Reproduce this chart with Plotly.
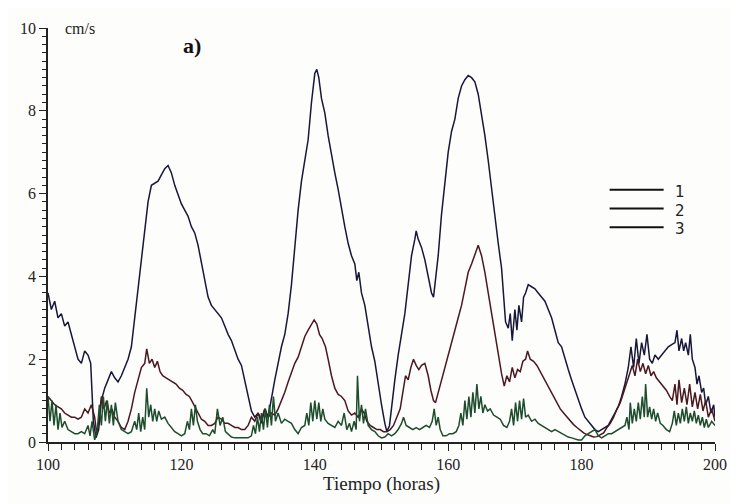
import plotly.graph_objects as go

# ---------------- data ----------------
t1 = [100,100.5,101,101.5,102,102.5,103,103.5,104,104.5,105,105.5,106,106.4,106.8,107.2,107.6,108,108.5,109,109.5,110,110.5,111,111.5,112,112.5,113,113.5,114,114.5,115,115.5,116,116.5,117,117.5,118,118.5,119,119.5,120,120.5,121,121.5,122,122.5,123,123.5,124,124.5,125,125.5,126,126.5,127,127.5,128,128.5,129,129.5,130,130.5,131,131.5,132,132.5,133,133.5,134,134.5,135,135.5,136,136.5,137,137.5,138,138.5,139,139.5,140,140.3,140.6,141,141.5,142,142.5,143,143.5,144,144.5,145,145.5,146,146.3,146.6,147,147.5,148,148.5,149,149.5,150,150.5,150.8,151.2,151.6,152,152.5,153,153.5,154,154.5,155,155.2,155.5,156,156.5,157,157.5,157.8,158.2,158.5,159,159.5,160,160.5,161,161.5,162,162.5,163,163.5,164,164.5,165,165.5,166,166.5,167,167.5,168,168.3,168.6,169,169.3,169.6,170,170.3,170.6,171,171.3,171.6,172,172.5,173,173.5,174,174.5,175,175.5,176,176.5,177,177.5,178,178.5,179,179.5,180,180.5,181,181.5,182,182.5,183,183.5,184,184.5,185,185.5,186,186.5,187,187.4,187.8,188.2,188.6,189,189.4,189.8,190.2,190.6,191,191.5,192,192.5,193,193.5,194,194.3,194.6,195,195.3,195.6,196,196.3,196.6,197,197.3,197.6,198,198.3,198.6,199,199.4,199.8,200]
v1 = [3.6,3.2,3.4,3.0,3.1,2.8,2.9,2.6,2.3,2.0,1.9,2.2,2.1,1.9,0.5,0.1,0.3,1.0,1.3,1.5,1.7,1.55,1.45,1.6,1.8,2.0,2.3,3.0,3.7,4.4,5.0,5.8,6.2,6.25,6.3,6.45,6.6,6.68,6.5,6.2,5.95,5.75,5.6,5.45,5.2,5.05,4.75,4.3,3.95,3.5,3.3,3.2,3.1,3.0,2.8,2.6,2.45,2.2,2.0,1.85,1.5,1.1,0.75,0.6,0.7,0.45,0.8,0.6,1.1,1.5,1.9,2.3,2.6,3.1,3.8,4.8,5.6,6.3,6.8,7.3,8.2,8.9,9.0,8.8,8.3,7.95,7.4,6.9,6.5,6.1,5.6,5.2,4.8,4.5,4.3,3.9,4.1,3.6,3.3,2.8,2.3,1.95,1.4,0.9,0.45,0.25,0.4,1.0,1.5,2.1,2.6,3.1,3.8,4.5,4.9,5.1,4.9,4.7,4.4,4.0,3.6,3.5,4.0,4.5,5.5,6.3,7.0,7.5,7.8,8.3,8.6,8.75,8.85,8.8,8.7,8.4,7.95,7.4,6.8,6.1,5.5,4.8,4.2,3.5,2.9,2.75,3.1,2.45,3.2,2.7,3.3,2.9,3.5,3.6,3.8,3.75,3.7,3.6,3.5,3.4,3.2,3.0,2.7,2.4,2.3,2.0,1.75,1.5,1.25,1.0,0.8,0.6,0.5,0.4,0.3,0.25,0.3,0.35,0.4,0.55,0.7,0.85,1.1,1.4,1.8,2.3,1.8,2.5,1.9,2.4,2.1,2.6,2.0,1.9,2.1,2.0,2.1,2.2,2.3,2.35,2.4,2.7,2.2,2.5,2.2,2.4,2.1,2.6,2.0,1.8,1.4,1.6,1.2,1.3,0.9,1.1,0.7,0.9,0.6]

t2 = [100,100.5,101,101.5,102,102.5,103,103.5,104,104.5,105,105.5,106,106.5,107,107.3,107.7,108,108.4,108.8,109.2,109.6,110,110.5,111,111.5,112,112.5,113,113.5,114,114.5,114.8,115.2,115.6,116,116.4,116.8,117.2,117.7,118.2,118.7,119.2,119.7,120.2,120.7,121.2,121.7,122.2,122.6,123,123.5,124,124.5,125,125.5,126,126.5,127,127.5,128,128.5,129,129.5,130,130.5,131,131.5,132,132.5,133,133.5,134,134.5,135,135.5,136,136.5,137,137.5,138,138.5,139,139.5,139.9,140.3,140.7,141.1,141.6,142,142.5,143,143.5,144,144.5,145,145.5,146,146.5,147,147.4,147.8,148.3,148.8,149.3,149.8,150.3,150.8,151.3,151.8,152.3,152.8,153.2,153.6,154,154.4,154.8,155.2,155.6,156,156.5,157,157.4,157.8,158.1,158.5,159,159.5,160,160.5,161,161.5,162,162.5,163,163.5,164,164.5,165,165.5,166,166.5,167,167.5,168,168.4,168.8,169.2,169.6,170,170.4,170.8,171.2,171.6,171.9,172.3,172.8,173.3,173.8,174.3,174.8,175.3,175.8,176.3,176.8,177.3,177.8,178.3,178.8,179.3,179.8,180.3,180.8,181.3,181.8,182.3,182.8,183.3,183.8,184.3,184.8,185.3,185.8,186.3,186.8,187.2,187.6,188,188.4,188.8,189.2,189.6,190,190.4,190.8,191.2,191.7,192.2,192.7,193.2,193.6,194,194.3,194.6,195,195.4,195.8,196.2,196.6,197,197.4,197.8,198.2,198.6,199,199.5,200]
v2 = [1.1,1.0,0.9,0.85,0.8,0.7,0.65,0.6,0.6,0.55,0.6,0.8,0.7,0.9,0.6,0.2,0.6,1.1,0.8,1.0,0.7,0.8,0.6,0.5,0.35,0.3,0.5,0.8,1.2,1.5,1.8,1.9,2.25,1.9,2.0,1.8,1.95,1.7,1.6,1.55,1.5,1.45,1.4,1.3,1.25,1.15,1.1,0.95,0.8,0.7,0.55,0.5,0.4,0.4,0.45,0.6,0.55,0.45,0.45,0.4,0.35,0.35,0.3,0.3,0.4,0.6,0.5,0.7,0.55,0.8,0.6,0.7,0.65,0.8,1.0,1.2,1.45,1.7,1.9,2.05,2.3,2.55,2.7,2.85,2.95,2.85,2.6,2.5,2.3,2.0,1.6,1.3,1.15,1.1,1.0,0.75,0.65,0.7,0.6,0.8,0.7,0.5,0.4,0.35,0.3,0.3,0.25,0.25,0.3,0.4,0.6,0.8,1.2,1.6,1.5,1.8,2.0,1.85,1.75,1.85,1.9,1.6,1.25,1.0,0.95,1.2,1.5,1.8,2.1,2.4,2.7,3.0,3.3,3.7,4.1,4.3,4.55,4.75,4.5,4.1,3.6,3.1,2.6,2.15,1.65,1.35,1.6,1.45,1.8,1.55,1.75,1.7,1.95,2.0,2.2,2.0,1.95,1.85,1.7,1.55,1.4,1.25,1.1,0.95,0.8,0.7,0.6,0.5,0.42,0.35,0.28,0.22,0.18,0.15,0.12,0.13,0.18,0.22,0.35,0.45,0.6,0.8,0.95,1.2,1.5,1.7,1.85,1.6,2.0,1.7,1.9,1.65,1.85,1.6,1.7,1.55,1.45,1.35,1.25,1.1,1.0,1.4,0.9,1.5,0.95,1.3,0.9,1.4,0.85,1.2,0.8,1.15,0.75,1.0,0.6,0.8,0.5]

t3 = [100,100.3,100.6,100.9,101.2,101.5,101.8,102.1,102.5,103,103.5,104,104.5,105,105.5,106,106.3,106.6,107,107.4,107.7,108,108.3,108.6,108.9,109.2,109.5,109.8,110.1,110.5,111,111.5,112,112.5,113,113.3,113.6,113.9,114.2,114.5,114.8,115.1,115.4,115.7,116,116.3,116.6,117,117.5,118,118.5,119,119.5,120,120.5,120.9,121.2,121.5,121.8,122.1,122.4,122.8,123.2,123.7,124.2,124.7,125,125.4,125.8,126.2,126.6,127,127.5,128,128.5,129,129.5,130,130.5,130.8,131.1,131.4,131.7,132,132.3,132.6,132.9,133.2,133.5,133.8,134.1,134.5,135,135.5,136,136.5,137,137.5,138,138.5,138.8,139.1,139.4,139.7,140,140.3,140.6,140.9,141.2,141.5,142,142.5,143,143.5,144,144.4,144.8,145.2,145.5,145.9,146.2,146.4,146.7,147,147.3,147.6,148,148.5,149,149.5,150,150.5,151,151.5,152,152.5,153,153.3,153.7,154.2,154.7,155.2,155.7,156.2,156.7,157.2,157.6,157.9,158.2,158.5,158.8,159.2,159.7,160.2,160.7,161.2,161.6,161.9,162.2,162.5,162.8,163.1,163.4,163.7,164,164.3,164.6,164.9,165.2,165.5,165.9,166.3,166.8,167.3,167.8,168.3,168.8,169.2,169.5,169.8,170.1,170.4,170.7,171,171.3,171.6,172,172.5,173,173.5,174,174.5,175,175.5,176,176.5,177,177.5,178,178.5,179,179.5,180,180.5,181,181.5,182,182.5,183,183.5,184,184.5,185,185.5,186,186.5,186.8,187.1,187.3,187.6,187.9,188.2,188.5,188.8,189.1,189.4,189.6,189.9,190.2,190.5,190.8,191.1,191.4,191.8,192.2,192.7,193.2,193.6,193.9,194.2,194.5,194.8,195.1,195.4,195.7,196,196.3,196.6,196.9,197.2,197.5,197.8,198.1,198.4,198.7,199,199.5,200]
v3 = [1.1,0.5,1.0,0.4,0.9,0.3,0.7,0.35,0.5,0.3,0.25,0.2,0.2,0.25,0.2,0.4,0.15,0.5,0.05,0.3,0.9,0.4,1.1,0.5,1.0,0.45,0.9,0.4,0.95,0.5,0.3,0.25,0.2,0.25,0.5,0.3,0.7,0.25,0.6,0.3,1.3,0.6,0.9,0.5,0.8,0.5,0.75,0.55,0.6,0.45,0.35,0.25,0.2,0.15,0.2,0.5,0.3,0.8,0.4,0.9,0.5,0.3,0.2,0.2,0.15,0.3,0.2,0.8,0.4,0.6,0.25,0.2,0.12,0.1,0.1,0.1,0.1,0.1,0.15,0.4,0.2,0.6,0.25,0.7,0.3,0.8,0.35,0.9,0.4,1.1,0.5,0.7,0.45,0.55,0.5,0.45,0.3,0.2,0.35,0.4,0.7,0.4,0.95,0.5,1.0,0.55,0.95,0.5,0.8,0.55,0.45,0.4,0.35,0.5,0.4,0.7,0.3,0.45,0.25,0.5,0.3,1.6,0.5,0.9,0.45,0.8,0.4,0.3,0.25,0.15,0.1,0.12,0.2,0.15,0.2,0.3,0.45,0.6,0.4,0.35,0.3,0.35,0.3,0.35,0.4,0.35,0.5,0.8,0.4,0.6,0.3,0.15,0.15,0.2,0.2,0.25,0.4,0.7,0.4,1.0,0.55,1.1,0.6,1.2,0.7,1.4,0.8,1.1,0.7,0.9,0.75,0.8,0.65,0.6,0.55,0.4,0.35,0.5,0.8,0.4,0.95,0.5,1.0,0.55,1.05,0.6,0.65,0.5,0.55,0.45,0.4,0.35,0.3,0.25,0.3,0.25,0.2,0.15,0.12,0.1,0.08,0.05,0.05,0.15,0.2,0.25,0.3,0.15,0.1,0.15,0.2,0.2,0.25,0.3,0.35,0.4,0.6,0.3,0.95,0.45,0.8,0.5,0.95,0.55,1.1,0.6,1.4,0.6,0.85,0.55,0.8,0.5,0.7,0.45,0.4,0.3,0.25,0.45,0.75,0.4,0.7,0.45,0.8,0.5,0.85,0.45,0.7,0.5,0.75,0.45,0.65,0.4,0.6,0.35,0.55,0.35,0.5,0.4]

series_names = ["1", "2", "3"]
series_colors = ["#17173a", "#4a1820", "#1d4d2c"]
x_ticks = [100, 120, 140, 160, 180, 200]
y_ticks = [0, 2, 4, 6, 8, 10]

SERIF = "Times New Roman, DejaVu Serif, serif"

fig = go.Figure()
for t, v, name, col in zip([t1, t2, t3], [v1, v2, v3], series_names, series_colors):
    fig.add_trace(go.Scatter(x=t, y=v, mode="lines", name=name,
                             line=dict(color=col, width=1.5), showlegend=False))

# the page body has an 8px margin, so the figure is sized/offset to compensate
fig.update_layout(
    width=731, height=496,
    margin=dict(l=36, r=15, t=12, b=62),
    paper_bgcolor="#fdfdfb", plot_bgcolor="#fdfdfb",
    font=dict(family=SERIF, color="#222"),
)
fig.update_xaxes(
    range=[100, 200], tickvals=x_ticks, ticktext=[str(v) for v in x_ticks],
    showgrid=False, zeroline=False, showline=True, linecolor="#222", linewidth=1.5,
    ticks="outside", ticklen=7, tickwidth=1.2, tickcolor="#222",
    minor=dict(dtick=2, ticks="outside", ticklen=6, tickwidth=1.2, tickcolor="#222"),
    tickfont=dict(size=16, family=SERIF),
    title=dict(text="Tiempo (horas)", font=dict(size=19, family=SERIF), standoff=2),
)
fig.update_yaxes(
    range=[0, 10], tickvals=y_ticks, ticktext=[str(v) for v in y_ticks],
    showgrid=False, zeroline=False, showline=True, linecolor="#222", linewidth=1.5,
    ticks="outside", ticklen=7, tickwidth=1.2, tickcolor="#222",
    minor=dict(dtick=0.2, ticks="outside", ticklen=4, tickwidth=1, tickcolor="#222"),
    tickfont=dict(size=16, family=SERIF),
)

# unit and panel label
fig.add_annotation(text="cm/s", xref="paper", yref="paper", x=0.023, y=1.0,
                   xanchor="left", yanchor="middle", showarrow=False,
                   font=dict(size=16, family=SERIF, color="#222"))
fig.add_annotation(text="<b>a)</b>", xref="paper", yref="paper", x=0.2, y=0.957,
                   xanchor="left", yanchor="middle", showarrow=False,
                   font=dict(size=22, family=SERIF, color="#111"))

# legend drawn as short lines with labels
leg_y = [0.609, 0.564, 0.519]
for name, yy in zip(series_names, leg_y):
    fig.add_shape(type="line", xref="paper", yref="paper", x0=0.842, x1=0.923,
                  y0=yy, y1=yy, line=dict(color="#111", width=2))
    fig.add_annotation(text=name, xref="paper", yref="paper", x=0.937, y=yy - 0.005,
                       xanchor="left", yanchor="middle", showarrow=False,
                       font=dict(size=15, family="DejaVu Sans", color="#222"))

fig.write_html("out.html")
